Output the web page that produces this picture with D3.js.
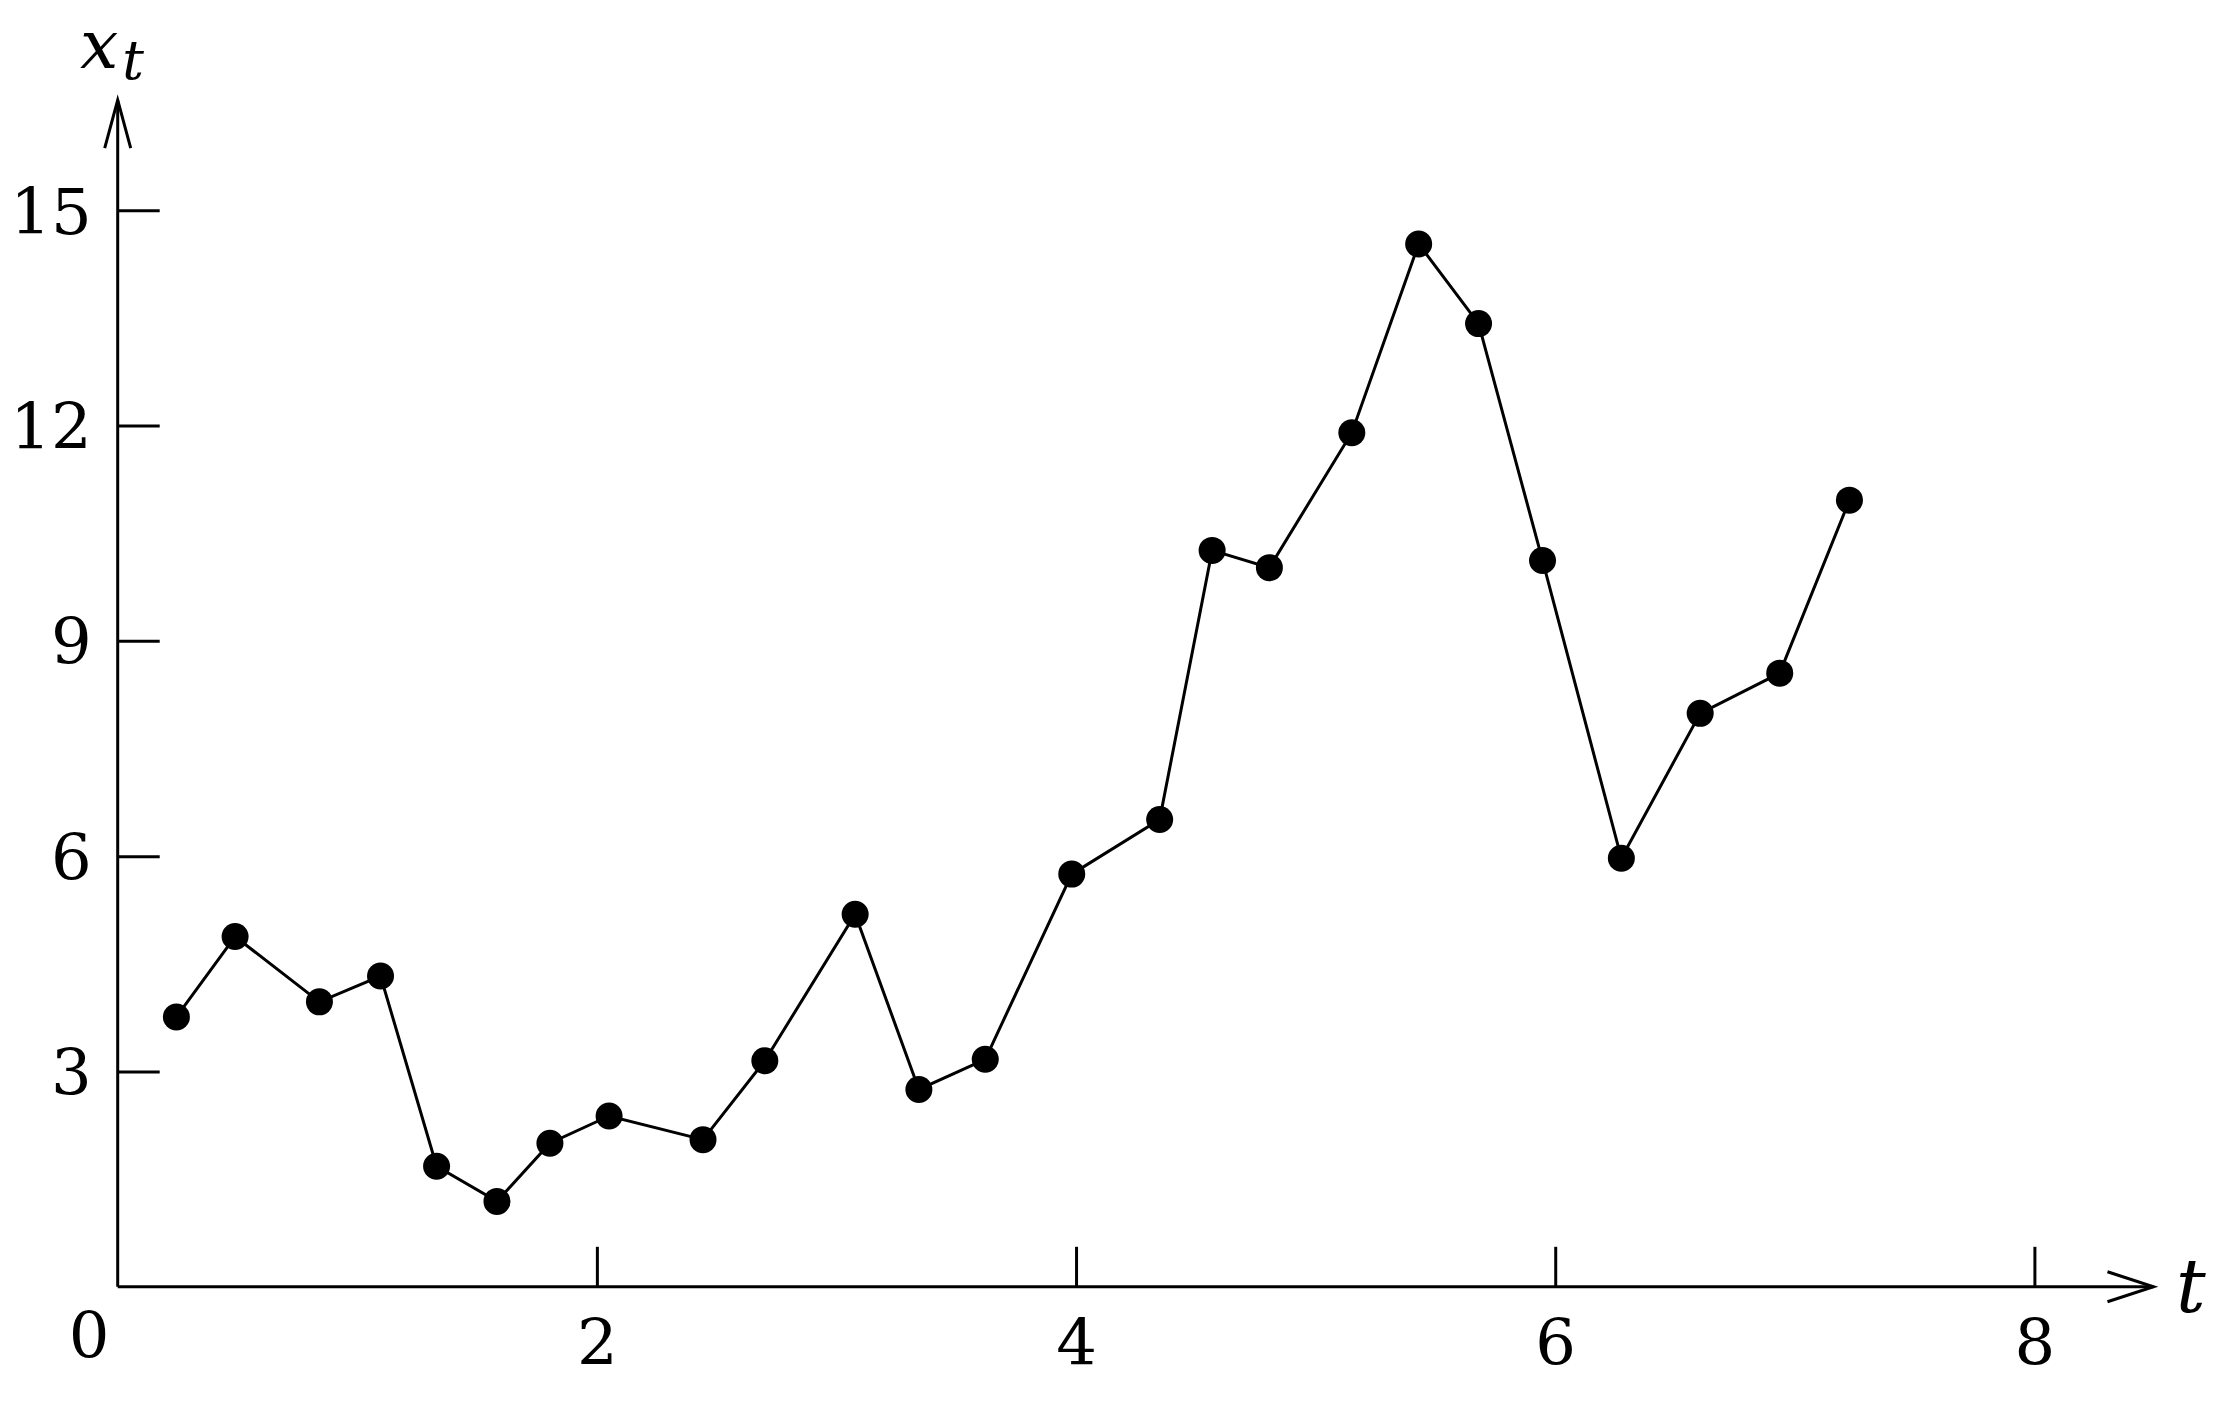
<!DOCTYPE html>
<html>
<head>
<meta charset="utf-8">
<script src="https://cdn.jsdelivr.net/npm/d3@7/dist/d3.min.js"></script>
<style>
  html, body { margin: 0; padding: 0; background: #fff; }
  svg { display: block; }
</style>
</head>
<body>
<script>
// ---- data ----
const times  = [0.245, 0.490, 0.842, 1.097, 1.331, 1.583, 1.804, 2.051, 2.443, 2.701,
                3.078, 3.344, 3.621, 3.982, 4.349, 4.568, 4.807, 5.151, 5.430, 5.680,
                5.947, 6.276, 6.605, 6.937, 7.228];
const values = [3.76, 4.88, 3.97, 4.33, 1.68, 1.19, 2.00, 2.38, 2.05, 3.15,
                5.19, 2.75, 3.17, 5.75, 6.51, 10.26, 10.02, 11.90, 14.53, 13.42,
                10.12, 5.97, 7.99, 8.55, 10.96];
const xTicks = [2, 4, 6, 8];
const yTicks = [3, 6, 9, 12, 15];
const xLabel = "t";
const yLabel = "x";
const yLabelSub = "t";

// ---- layout ----
const W = 2238, H = 1401;
const FONT = "'DejaVu Serif', serif";
const svg = d3.select("body").append("svg").attr("width", W).attr("height", H)
  .attr("font-family", FONT);

const x = d3.scaleLinear().domain([0, 8]).range([117.7, 2034.4]);
const y = d3.scaleLinear().domain([0, 15]).range([1286.8, 210.2]);
const xMax = 8.497, yMax = 16.535;
const fs = 64;

// y axis ticks and labels
const yAxis = d3.axisLeft(y).tickValues(yTicks).tickSizeInner(-42).tickSizeOuter(0).tickPadding(26);
const gy = svg.append("g").attr("transform", `translate(${x(0)},0)`).call(yAxis)
  .attr("font-family", FONT).attr("font-size", fs);
gy.select(".domain").remove();
gy.selectAll(".tick line").attr("stroke", "#000").attr("stroke-width", 3);
gy.selectAll(".tick text").attr("fill", "#000").attr("font-family", FONT).attr("font-size", fs).attr("dy", "0.36em");

// x axis ticks and labels
const xAxis = d3.axisBottom(x).tickValues(xTicks).tickSizeInner(-40).tickSizeOuter(0);
const gx = svg.append("g").attr("transform", `translate(0,${y(0)})`).call(xAxis)
  .attr("font-family", FONT).attr("font-size", fs);
gx.select(".domain").remove();
gx.selectAll(".tick line").attr("stroke", "#000").attr("stroke-width", 3);
gx.selectAll(".tick text").attr("fill", "#000").attr("font-family", FONT).attr("font-size", fs)
  .attr("y", 1365 - y(0)).attr("dy", 0);

// origin label
svg.append("text").attr("x", 89).attr("y", 1358).attr("text-anchor", "middle")
  .attr("font-family", FONT).attr("font-size", fs).text("0");

// axis lines with arrows
const axes = svg.append("g").attr("stroke", "#000").attr("stroke-width", 3).attr("fill", "none");
axes.append("path").attr("d", `M${x(0)},${y(0)}H${x(xMax)}`);
axes.append("path").attr("d", `M${x(0)},${y(0)}V${y(yMax)}`);
axes.append("path")
  .attr("d", `M${x(xMax) - 46},${y(0) - 15}L${x(xMax)},${y(0)}L${x(xMax) - 46},${y(0) + 15}`);
axes.append("path")
  .attr("d", `M${x(0) - 13},${y(yMax) + 48}L${x(0)},${y(yMax)}L${x(0) + 13},${y(yMax) + 48}`);

// axis labels
svg.append("text").attr("x", 2176).attr("y", 1312).attr("font-family", FONT)
  .attr("font-size", 74).attr("font-style", "italic").text(xLabel);
const yl = svg.append("text").attr("x", 80).attr("y", 68).attr("font-family", FONT)
  .attr("font-size", 68).attr("font-style", "italic");
yl.append("tspan").text(yLabel);
yl.append("tspan").attr("dx", 4).attr("dy", 11).attr("font-size", 54).text(yLabelSub);

// series
const pts = times.map((t, i) => [t, values[i]]);
svg.append("path").datum(pts)
  .attr("fill", "none").attr("stroke", "#000").attr("stroke-width", 3)
  .attr("d", d3.line().x(d => x(d[0])).y(d => y(d[1])));
svg.append("g").selectAll("circle").data(pts).join("circle")
  .attr("cx", d => x(d[0])).attr("cy", d => y(d[1])).attr("r", 13.5).attr("fill", "#000");
</script>
</body>
</html>
